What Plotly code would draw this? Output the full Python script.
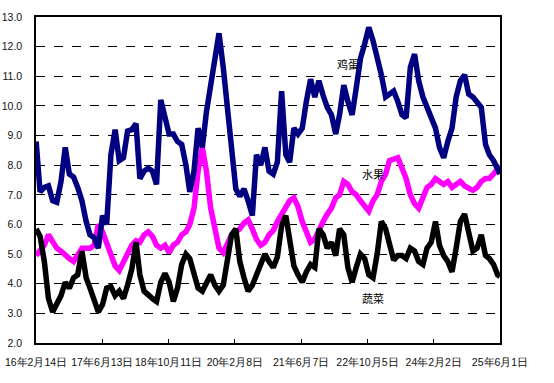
import pandas as pd
import plotly.graph_objects as go

# ---- data (monthly readings, mid-month, plus final day) ----
month_start = "2016-02-15"
n_months = 112
end_date = "2025-06-01"

egg = [8.8, 7.1, 7.25, 7.3, 6.8, 6.75, 7.45, 8.6, 7.7, 7.6,
       7.25, 6.8, 6.1, 5.65, 5.55, 5.2, 6.3, 6.0, 8.35, 9.2,
       8.15, 8.25, 9.15, 9.2, 9.4, 7.55, 7.8, 7.9, 7.8, 7.35,
       10.2, 9.5, 9.05, 9.05, 8.8, 8.7, 8.0, 7.1, 7.8, 9.25,
       8.6, 9.8, 10.7, 11.5, 12.45, 11.3, 9.95, 8.8, 7.2, 6.95,
       7.2, 6.8, 6.3, 8.35, 8.0, 8.6, 7.8, 7.7, 8.1, 10.5,
       8.35, 8.1, 9.25, 9.05, 9.25, 10.15, 10.9, 10.3, 10.85, 10.35,
       9.95, 9.7, 9.05, 9.7, 10.7, 10.15, 9.7, 10.6, 11.6, 12.1,
       12.65, 12.2, 11.65, 11.05, 10.3, 10.4, 10.5, 10.15, 9.7, 9.6,
       11.3, 11.75, 10.85, 10.3, 9.95, 9.7, 9.25, 8.6, 8.25, 8.8,
       9.25, 10.3, 10.85, 11.05, 10.4, 10.3, 10.15, 9.95, 8.7, 8.35,
       8.15, 7.8, 7.7]

fruit = [4.95, 5.15, 5.3, 5.65, 5.4, 5.2, 5.1, 4.95, 4.85, 4.75,
         4.95, 5.2, 5.2, 5.2, 5.3, 6.0, 5.75, 5.4, 4.95, 4.6,
         4.45, 4.75, 5.1, 5.3, 5.45, 5.4, 5.65, 5.75, 5.6, 5.3,
         5.2, 5.3, 5.05, 5.3, 5.4, 5.65, 5.75, 6.0, 6.55, 7.8,
         8.6, 7.8, 6.55, 5.75, 5.2, 5.05, 5.3, 5.65, 5.75, 5.85,
         6.05, 6.15, 5.85, 5.5, 5.3, 5.4, 5.65, 5.8, 6.1, 6.35,
         6.6, 6.8, 6.9, 6.6, 6.1, 5.75, 5.4, 5.5, 5.85, 6.1,
         6.35, 6.55, 6.9, 7.0, 7.45, 7.35, 7.1, 7.0, 6.8, 6.6,
         6.45, 6.8, 7.0, 7.45, 7.7, 8.15, 8.2, 8.25, 7.9, 7.55,
         7.0, 6.7, 6.55, 6.9, 7.25, 7.35, 7.55, 7.45, 7.35, 7.45,
         7.25, 7.35, 7.45, 7.3, 7.25, 7.15, 7.25, 7.45, 7.55, 7.55,
         7.7, 7.9, 8.0]

veg = [5.85, 5.6, 4.75, 3.5, 3.05, 3.35, 3.6, 4.05, 3.85, 4.2,
       4.3, 5.1, 4.2, 3.85, 3.4, 3.05, 3.3, 3.85, 3.9, 3.6,
       3.75, 3.5, 3.95, 4.5, 5.4, 4.3, 3.75, 3.6, 3.5, 3.4,
       4.05, 4.35, 4.05, 3.4, 3.85, 4.65, 5.0, 4.85, 4.3, 3.85,
       3.75, 4.05, 4.3, 3.95, 3.75, 3.95, 4.75, 5.65, 5.85, 4.75,
       4.2, 3.75, 3.95, 4.3, 4.75, 5.0, 4.75, 4.55, 4.9, 5.95,
       6.3, 5.5, 4.6, 4.3, 4.05, 4.4, 4.65, 4.55, 5.85, 5.65,
       5.2, 5.4, 4.95, 5.85, 5.65, 4.55, 4.05, 4.55, 5.0, 4.85,
       4.3, 4.2, 5.0, 6.1, 5.85, 5.35, 4.8, 4.95, 4.95, 4.85,
       5.2, 5.1, 4.75, 4.65, 5.2, 5.4, 6.1, 5.3, 4.95, 4.75,
       4.4, 5.2, 6.1, 6.35, 5.65, 5.1, 5.2, 5.65, 4.95, 4.85,
       4.65, 4.3, 4.25]

series_names = ["水果", "蔬菜", "鸡蛋"]
series_colors = ["#FF00FF", "#000000", "#000080"]

tick_dates = ["2016-02-14", "2017-06-13", "2018-10-11", "2020-02-08",
              "2021-06-07", "2022-10-05", "2024-02-02", "2025-06-01"]
tick_labels = ["16年2月14日", "17年6月13日", "18年10月11日", "20年2月8日",
               "21年6月7日", "22年10月5日", "24年2月2日", "25年6月1日"]

label_dates = ["2022-05-15", "2022-11-14", "2022-11-14"]
label_values = [11.41, 7.70, 3.52]
label_texts = ["鸡蛋", "水果", "蔬菜"]

# ---- figure ----
dates = list(pd.date_range(month_start, periods=n_months,
                           freq=pd.DateOffset(months=1))) + [pd.Timestamp(end_date)]

fig = go.Figure()
for name, vals, col in zip(series_names, [fruit, veg, egg], series_colors):
    fig.add_trace(go.Scatter(x=dates, y=vals, mode="lines", name=name,
                             line=dict(color=col, width=5.5)))

for d, v, t in zip(label_dates, label_values, label_texts):
    fig.add_annotation(x=d, y=v, text=t, showarrow=False,
                       font=dict(family="Noto Sans CJK SC", size=11, color="#000"))

tfont = "Liberation Sans, Arial, sans-serif"

fig.update_layout(
    width=554, height=383,
    margin=dict(l=36, r=54, t=17, b=40, autoexpand=False),
    plot_bgcolor="white", paper_bgcolor="white",
    showlegend=False,
)
fig.update_xaxes(
    type="date", range=[tick_dates[0], tick_dates[-1]],
    tickmode="array", tickvals=tick_dates, ticktext=tick_labels,
    tickangle=0, automargin=False, ticklabeloverflow="allow",
    ticks="inside", ticklen=4, tickcolor="black", tickwidth=1,
    showline=True, linecolor="black", linewidth=1.5, mirror=True,
    showgrid=False, zeroline=False,
    tickfont=dict(family=tfont, size=10.5, color="#111"), ticklabelstandoff=9,
)
fig.update_yaxes(
    range=[2, 13], dtick=1, tickformat=".1f", automargin=False,
    ticklabeloverflow="allow",
    showline=True, linecolor="black", linewidth=1.5, mirror=True,
    showgrid=True, gridcolor="black", gridwidth=1, griddash="dash",
    zeroline=False, ticks="",
    tickfont=dict(family=tfont, size=10.5, color="#111"), ticklabelstandoff=10,
)

fig.write_html("out.html",
               config={"displayModeBar": False},
               post_script="document.body.style.margin='0';"
                           "document.body.style.overflow='hidden';")
